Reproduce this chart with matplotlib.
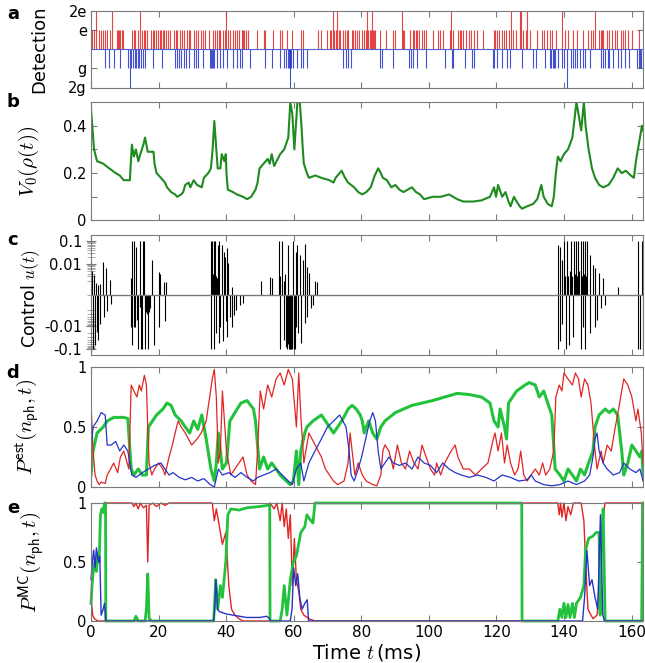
import numpy as np
import matplotlib
matplotlib.use("Agg")
import matplotlib.pyplot as plt
from matplotlib.ticker import FixedLocator, SymmetricalLogLocator, NullFormatter

plt.rcParams["mathtext.fontset"] = "cm"
plt.rcParams["font.family"] = "DejaVu Sans"
plt.rcParams["font.size"] = 10.5

# ---- panel a: detection events (ms) ----
red_e = [0.4, 1.0, 2.3, 2.9, 3.5, 4.2, 4.7, 5.5, 7.7, 8.0, 8.3, 8.5, 9.2, 9.6, 12.1, 12.6, 13.1,
         13.8, 15.1, 15.6, 16.1, 16.6, 17.8, 18.3, 18.7, 19.3, 19.7, 20.3, 20.7, 21.3, 21.7, 22.3,
         22.7, 23.3, 24.7, 25.1, 25.4, 26.2, 26.9, 27.6, 28.4, 28.9, 29.4, 30.4, 31.2, 31.8, 32.5,
         33.3, 33.8, 34.8, 36.1, 36.6, 37.3, 37.9, 38.3, 39.0, 39.7, 40.7, 41.2, 42.0, 42.7, 43.2,
         43.8, 44.6, 44.9, 45.3, 45.9, 46.6, 49.1, 51.1, 51.6, 53.8, 56.0, 56.5, 58.0, 59.5, 62.1,
         62.9, 67.3, 68.0, 69.8, 70.6, 71.0, 72.0, 72.6, 73.3, 73.8, 74.7, 75.2, 75.7, 76.2, 77.2,
         77.7, 78.2, 78.7, 79.2, 80.2, 80.9, 81.4, 82.1, 82.6, 82.9, 83.4, 83.8, 84.2, 85.6, 87.4,
         89.5, 90.1, 92.3, 92.7, 94.5, 95.2, 95.6, 96.1, 96.6, 97.2, 97.9, 98.6, 99.2, 101.2, 102.6,
         103.3, 104.1, 106.3, 107.3, 108.5, 109.1, 109.5, 110.0, 111.0, 112.0, 112.5, 113.4, 114.4,
         116.0, 119.3, 119.6, 120.1, 120.9, 121.6, 122.3, 122.9, 123.6, 124.8, 125.8, 128.0, 128.8,
         130.0, 131.9, 133.4, 134.1, 134.9, 135.9, 136.4, 137.7, 140.3, 141.3, 142.6, 143.8, 145.5,
         147.2, 147.9, 148.5, 150.5, 150.9, 151.3, 151.7, 152.6, 153.4, 154.1, 155.1, 155.8, 156.8,
         157.4, 158.1, 159.1, 160.0, 162.3]
red_2e = [1.5, 6.1, 14.4, 39.9, 71.6, 72.8, 81.6, 83.1, 92.0, 106.5, 124.3, 126.9, 127.3, 129.2,
          139.3, 149.2]
blue_g = [4.2, 5.2, 6.7, 8.5, 11.1, 11.8, 12.4, 12.9, 13.4, 13.8, 14.2, 14.8, 15.4, 16.1, 18.5,
          21.0, 25.0, 25.4, 26.0, 26.6, 27.4, 28.2, 28.9, 30.4, 31.2, 31.8, 33.1, 35.3, 35.6, 35.9,
          36.2, 36.5, 37.3, 38.3, 39.0, 40.2, 42.0, 43.2, 44.0, 44.7, 47.1, 51.6, 53.5, 55.8, 57.2,
          57.8, 58.2, 58.5, 58.8, 59.2, 59.8, 60.9, 62.1, 62.9, 63.9, 74.7, 75.5, 76.2, 76.9, 85.6,
          86.1, 89.3, 94.0, 94.7, 95.4, 96.6, 99.2, 104.8, 106.8, 107.3, 110.7, 112.7, 113.4, 118.9,
          119.4, 120.1, 121.6, 123.1, 123.9, 127.6, 130.8, 131.7, 134.4, 135.9, 136.3, 136.7, 137.1,
          137.4, 138.3, 139.3, 140.0, 142.0, 142.8, 143.3, 144.0, 144.8, 145.5, 146.2, 147.7, 150.9,
          151.5, 152.2, 152.9, 153.4, 154.4, 156.1, 156.8, 158.1, 159.4, 161.7, 162.1, 162.5, 162.9,
          163.3]
blue_2g = [11.4, 59.0, 141.0]
det_ticks = [-2, -1, 1, 2]
det_labels = ["2g", "g", "e", "2e"]

# ---- panel b: V0(rho(t)) ----
v0_pts = [(0, 0.47), (0.9, 0.30), (1.8, 0.25), (3.6, 0.24), (5.4, 0.22), (7.3, 0.20), (8.5, 0.19),
          (9.7, 0.17), (11.5, 0.17), (11.9, 0.27), (12.1, 0.32), (12.7, 0.27), (13.3, 0.30),
          (14.0, 0.25), (14.6, 0.28), (15.5, 0.32), (16.0, 0.35), (16.8, 0.29), (18.5, 0.29),
          (18.8, 0.24), (19.4, 0.20), (20.7, 0.18), (21.9, 0.16), (22.5, 0.14), (23.7, 0.12),
          (24.9, 0.11), (25.5, 0.10), (26.7, 0.11), (27.3, 0.12), (27.9, 0.15), (28.9, 0.16),
          (29.4, 0.14), (30.4, 0.17), (31.4, 0.15), (32.8, 0.14), (33.4, 0.18), (34.7, 0.20),
          (35.5, 0.22), (36.0, 0.30), (36.5, 0.42), (37.1, 0.30), (37.5, 0.22), (38.3, 0.22),
          (38.7, 0.28), (39.5, 0.25), (39.9, 0.28), (40.1, 0.20), (40.5, 0.13), (42.0, 0.12),
          (43.2, 0.11), (45.0, 0.10), (46.2, 0.09), (47.4, 0.10), (48.7, 0.13), (49.3, 0.16),
          (49.9, 0.22), (51.1, 0.24), (52.3, 0.26), (52.9, 0.24), (53.5, 0.28), (54.2, 0.23),
          (56.0, 0.28), (57.2, 0.30), (58.4, 0.35), (59.0, 0.50), (59.6, 0.45), (60.2, 0.30),
          (61.1, 0.50), (61.8, 0.50), (62.3, 0.40), (62.7, 0.30), (63.0, 0.24), (63.9, 0.20),
          (64.5, 0.18), (66.4, 0.19), (68.2, 0.18), (70.6, 0.17), (71.8, 0.16), (72.4, 0.18),
          (73.6, 0.20), (74.2, 0.21), (75.2, 0.18), (76.1, 0.16), (77.9, 0.14), (79.1, 0.12),
          (80.3, 0.11), (81.5, 0.12), (82.8, 0.14), (84.0, 0.19), (85.0, 0.22), (85.8, 0.20),
          (86.4, 0.18), (87.6, 0.17), (88.9, 0.14), (90.1, 0.15), (91.3, 0.13), (92.5, 0.12),
          (93.7, 0.13), (95.0, 0.14), (96.2, 0.12), (97.4, 0.11), (98.6, 0.09), (101.1, 0.10),
          (103.5, 0.10), (106.0, 0.11), (107.2, 0.10), (108.4, 0.09), (110.2, 0.08), (113.2, 0.08),
          (115.6, 0.085), (118.1, 0.10), (119.3, 0.14), (119.9, 0.10), (120.5, 0.15), (121.7, 0.10),
          (122.7, 0.12), (123.6, 0.08), (124.2, 0.06), (125.2, 0.10), (126.0, 0.08), (126.9, 0.06),
          (127.6, 0.05), (129.1, 0.06), (130.9, 0.07), (132.1, 0.09), (133.3, 0.15), (134.0, 0.10),
          (135.2, 0.07), (136.4, 0.06), (137.0, 0.10), (137.6, 0.20), (138.2, 0.27), (139.0, 0.25),
          (140.0, 0.28), (141.2, 0.30), (142.5, 0.35), (143.7, 0.50), (144.3, 0.45), (145.1, 0.38),
          (145.9, 0.50), (146.4, 0.40), (147.3, 0.30), (148.3, 0.22), (149.2, 0.18), (150.4, 0.15),
          (151.6, 0.14), (153.2, 0.15), (154.6, 0.18), (155.9, 0.22), (157.1, 0.20), (158.3, 0.21),
          (159.8, 0.19), (160.7, 0.18), (161.3, 0.25), (162.5, 0.35), (163.1, 0.40), (163.4, 0.38)]

# ---- panel c: control pulses (t, u) ----
u_pts = [(0.4, 0.005), (0.5, -0.1), (1.0, 0.0035), (1.1, -0.065), (1.6, 0.0015), (1.7, -0.018),
         (2.1, 0.0013), (2.2, -0.04), (2.6, 0.0014), (2.8, -0.008), (3.7, 0.013), (3.8, -0.004),
         (4.5, 0.0067), (4.6, -0.0022), (5.7, 0.0021), (5.9, -0.0012),
         (11.8, 0.0025), (11.9, -0.011), (12.1, 0.1), (12.2, -0.065), (12.6, 0.1), (12.7, -0.011),
         (13.1, -0.011), (13.4, 0.057), (13.5, -0.0055), (13.8, -0.1), (14.4, 0.1), (14.5, -0.0015),
         (14.8, -0.1), (15.1, -0.1), (15.4, 0.1), (15.8, 0.1), (15.9, -0.1), (16.1, -0.002),
         (16.3, -0.0025), (16.5, -0.002), (16.7, -0.003), (16.9, -0.002), (17.0, -0.1),
         (17.1, -0.0025), (17.3, -0.002), (17.5, -0.0018), (18.0, 0.015), (18.7, -0.065),
         (20.0, 0.0048), (20.1, -0.011), (20.5, 0.0037), (21.7, 0.0018), (21.8, -0.0063),
         (22.3, 0.0018),
         (35.5, 0.1), (35.6, -0.1), (35.7, 0.003), (35.9, 0.1), (36.1, 0.004), (36.3, 0.1),
         (36.4, -0.1), (36.5, 0.002), (36.7, 0.1), (36.9, 0.003), (37.1, -0.021), (37.3, 0.0025),
         (37.5, 0.067), (37.7, 0.002), (37.9, 0.1), (38.0, -0.055), (38.3, -0.011), (38.7, 0.067),
         (39.0, -0.047), (39.4, 0.035), (39.8, 0.021), (39.9, -0.0063), (40.2, 0.048),
         (40.3, -0.029), (40.7, 0.011), (41.0, -0.004), (41.7, 0.0011), (41.8, -0.011),
         (42.2, -0.0035), (43.0, -0.0021), (44.0, -0.00125), (45.0, -0.001),
         (50.3, 0.0019), (53.0, 0.0028), (53.5, 0.0026),
         (55.7, 0.1), (55.8, -0.1), (56.0, 0.003), (56.6, 0.1), (57.0, 0.002), (57.2, -0.04),
         (57.5, 0.004), (57.8, -0.08), (58.0, -0.1), (58.2, -0.06), (58.4, 0.067), (58.6, -0.1),
         (58.8, -0.1), (59.0, -0.1), (59.1, -0.09), (59.2, -0.1), (59.4, -0.1), (59.6, -0.08),
         (59.9, 0.1), (60.0, -0.1), (60.2, -0.07), (60.4, -0.1), (60.6, 0.035), (60.7, -0.011),
         (61.1, 0.067), (61.2, -0.021), (61.8, 0.025), (62.3, -0.055), (62.7, 0.015), (63.3, 0.075),
         (63.4, -0.0077), (63.9, 0.0079), (64.0, -0.004), (64.5, 0.0041), (65.1, -0.0017),
         (65.7, -0.00125), (66.3, 0.0019), (66.9, 0.0017),
         (138.2, 0.067), (138.3, -0.1), (138.8, 0.057), (138.9, -0.047), (139.4, 0.015),
         (139.5, -0.0082), (140.0, 0.1), (140.3, 0.003), (140.6, -0.1), (140.8, 0.004), (141.0, 0.1),
         (141.3, 0.003), (141.6, -0.065), (141.9, 0.005), (142.2, 0.1), (142.5, 0.003),
         (142.7, -0.029), (143.1, 0.1), (143.4, 0.004), (143.7, 0.1), (144.0, 0.003), (144.3, 0.1),
         (144.6, 0.005), (144.9, 0.1), (145.0, -0.1), (145.2, 0.003), (145.5, 0.1), (145.6, -0.011),
         (145.8, 0.004), (146.1, 0.1), (146.2, -0.1), (146.5, 0.003), (146.8, 0.1), (147.6, 0.025),
         (147.7, -0.021), (148.6, 0.0094), (149.2, 0.0072), (149.3, -0.011), (149.8, -0.0055),
         (150.4, 0.0041), (151.0, -0.0017), (151.6, 0.0025), (152.2, -0.00125), (155.9, 0.0011),
         (161.9, 0.1), (162.0, -0.1), (162.5, -0.1), (163.1, 0.1), (163.3, -0.1)]
u_ticks = [-0.1, -0.01, 0.01, 0.1]
u_labels = ["-0.1", "-0.01", "0.01", "0.1"]

# ---- panel d: estimated photon number probabilities ----
red_d = [(0, 0.7), (0.6, 0.3), (1.2, 0.1), (1.8, 0.05), (2.4, 0.02), (3.0, 0.04), (4.2, 0.03),
         (4.8, 0.1), (5.8, 0.15), (6.7, 0.2), (7.9, 0.12), (8.7, 0.25), (9.7, 0.3), (10.7, 0.2),
         (11.2, 0.15), (11.9, 0.85), (12.7, 0.8), (13.6, 0.75), (14.3, 0.85), (14.9, 0.8),
         (15.8, 0.93), (16.4, 0.85), (16.8, 0.5), (17.2, 0.2), (18.0, 0.1), (18.8, 0.15), (20.0, 0.2),
         (21.3, 0.15), (21.9, 0.1), (23.1, 0.25), (24.1, 0.35), (24.9, 0.45), (25.8, 0.55),
         (26.7, 0.5), (27.9, 0.45), (29.8, 0.35), (31.4, 0.4), (32.6, 0.45), (34.1, 0.55),
         (35.9, 0.9), (36.5, 0.98), (37.1, 0.75), (37.7, 0.2), (38.3, 0.3), (38.9, 0.8),
         (39.5, 0.55), (40.1, 0.3), (41.4, 0.1), (42.6, 0.15), (43.8, 0.2), (45.0, 0.25),
         (46.2, 0.1), (47.4, 0.05), (48.7, 0.02), (49.3, 0.3), (50.1, 0.8), (51.1, 0.65),
         (52.3, 0.85), (53.5, 0.75), (54.8, 0.9), (56.0, 0.95), (57.2, 0.85), (58.4, 0.98),
         (59.6, 0.9), (60.8, 0.5), (61.5, 0.95), (62.1, 0.6), (63.0, 0.2), (63.9, 0.35),
         (64.5, 0.45), (68.2, 0.25), (69.4, 0.15), (70.6, 0.1), (71.8, 0.05), (73.0, 0.02),
         (74.9, 0.05), (76.1, 0.2), (76.7, 0.45), (77.3, 0.3), (78.1, 0.1), (79.1, 0.2), (80.3, 0.1),
         (81.5, 0.05), (83.4, 0.02), (84.6, 0.01), (85.8, 0.1), (86.4, 0.3), (87.0, 0.35),
         (88.2, 0.3), (89.5, 0.15), (90.7, 0.35), (91.9, 0.2), (93.1, 0.15), (94.3, 0.3),
         (95.6, 0.2), (96.8, 0.15), (98.0, 0.35), (99.2, 0.25), (100.5, 0.15), (101.7, 0.1),
         (102.3, 0.2), (103.5, 0.1), (104.7, 0.2), (106.6, 0.3), (107.8, 0.35), (108.6, 0.25),
         (110.2, 0.15), (112.0, 0.15), (113.8, 0.1), (115.6, 0.15), (117.5, 0.2), (119.1, 0.4),
         (119.6, 0.45), (120.5, 0.3), (121.5, 0.45), (122.4, 0.2), (123.2, 0.35), (124.2, 0.2),
         (125.4, 0.1), (126.4, 0.15), (127.2, 0.3), (128.1, 0.1), (129.1, 0.05), (130.3, 0.1),
         (131.5, 0.15), (132.7, 0.1), (133.7, 0.2), (134.6, 0.1), (135.8, 0.15), (137.0, 0.3),
         (137.6, 0.75), (138.6, 0.85), (139.4, 0.8), (140.0, 0.95), (141.2, 0.9), (142.5, 0.85),
         (143.4, 0.95), (144.3, 0.9), (145.1, 0.75), (146.1, 0.9), (147.1, 0.85), (148.0, 0.7),
         (148.6, 0.5), (149.2, 0.3), (149.8, 0.15), (151.0, 0.3), (151.6, 0.2), (152.8, 0.35),
         (154.0, 0.3), (155.2, 0.5), (156.5, 0.7), (157.7, 0.9), (158.9, 0.85), (160.1, 0.75),
         (161.3, 0.55), (161.9, 0.65), (162.9, 0.45), (163.4, 0.2)]
green_d = [(0, 0.1), (0.6, 0.3), (1.8, 0.45), (3.6, 0.5), (4.8, 0.55), (6.7, 0.58), (9.7, 0.58),
           (10.9, 0.57), (11.9, 0.15), (12.7, 0.1), (14.0, 0.15), (15.2, 0.1), (16.4, 0.1),
           (17.0, 0.5), (18.2, 0.55), (19.4, 0.6), (21.3, 0.65), (22.5, 0.7), (23.7, 0.68),
           (24.9, 0.6), (26.7, 0.55), (27.9, 0.5), (29.2, 0.45), (30.4, 0.55), (31.6, 0.48),
           (32.8, 0.6), (34.1, 0.4), (35.5, 0.15), (36.5, 0.05), (37.1, 0.2), (37.7, 0.45),
           (38.3, 0.3), (38.9, 0.15), (40.1, 0.2), (41.1, 0.55), (42.6, 0.62), (44.4, 0.7),
           (46.2, 0.72), (48.1, 0.65), (48.7, 0.55), (49.9, 0.15), (51.1, 0.25), (52.3, 0.15),
           (53.5, 0.2), (54.8, 0.15), (56.0, 0.1), (57.8, 0.05), (59.0, 0.02), (59.9, 0.05),
           (60.8, 0.3), (61.5, 0.02), (62.1, 0.3), (63.3, 0.45), (63.9, 0.5), (65.7, 0.55),
           (68.2, 0.6), (69.4, 0.55), (70.6, 0.5), (71.8, 0.45), (73.0, 0.5), (74.2, 0.55),
           (75.2, 0.6), (76.1, 0.65), (77.3, 0.68), (78.5, 0.65), (79.7, 0.6), (80.3, 0.55),
           (80.9, 0.45), (81.5, 0.5), (82.2, 0.55), (83.4, 0.45), (84.6, 0.4), (85.8, 0.5),
           (87.0, 0.55), (90.1, 0.62), (95.0, 0.68), (101.1, 0.72), (104.7, 0.75), (108.4, 0.78),
           (112.0, 0.77), (115.6, 0.75), (118.1, 0.7), (119.3, 0.55), (120.5, 0.5), (121.1, 0.65),
           (122.4, 0.5), (123.0, 0.4), (123.6, 0.7), (126.0, 0.8), (128.5, 0.85), (129.7, 0.87),
           (131.5, 0.85), (132.7, 0.75), (134.0, 0.8), (135.2, 0.7), (136.4, 0.6), (137.4, 0.15),
           (138.8, 0.1), (140.0, 0.05), (141.2, 0.15), (142.5, 0.1), (143.7, 0.05), (144.9, 0.15),
           (146.1, 0.1), (147.3, 0.2), (148.6, 0.3), (149.2, 0.5), (150.4, 0.6), (152.2, 0.65),
           (153.4, 0.62), (154.6, 0.65), (155.9, 0.6), (157.1, 0.3), (157.7, 0.1), (158.9, 0.2),
           (160.1, 0.35), (161.3, 0.3), (162.5, 0.25), (163.1, 0.3), (163.4, 0.1)]
blue_d = [(0, 0.3), (0.6, 0.5), (1.8, 0.55), (3.0, 0.62), (4.2, 0.6), (4.8, 0.35), (6.0, 0.35),
          (7.3, 0.38), (8.5, 0.3), (9.7, 0.35), (10.9, 0.3), (12.1, 0.1), (13.3, 0.08),
          (15.2, 0.12), (17.0, 0.15), (18.8, 0.18), (20.7, 0.2), (21.9, 0.15), (23.1, 0.1),
          (24.3, 0.12), (26.1, 0.08), (27.9, 0.06), (29.8, 0.08), (31.6, 0.05), (33.4, 0.07),
          (35.3, 0.02), (36.5, 0.0), (37.7, 0.15), (38.9, 0.1), (40.8, 0.12), (42.6, 0.08),
          (44.4, 0.12), (46.2, 0.08), (48.1, 0.05), (49.3, 0.08), (51.1, 0.1), (52.9, 0.12),
          (54.8, 0.15), (56.6, 0.1), (58.4, 0.05), (59.6, 0.02), (60.8, 0.15), (62.1, 0.2),
          (63.0, 0.05), (64.5, 0.2), (66.3, 0.3), (68.2, 0.4), (70.0, 0.5), (71.8, 0.55),
          (73.6, 0.6), (75.5, 0.5), (76.4, 0.3), (77.0, 0.1), (77.9, 0.05), (79.1, 0.15),
          (80.1, 0.25), (81.3, 0.4), (82.5, 0.55), (83.4, 0.62), (84.2, 0.55), (85.0, 0.3),
          (85.8, 0.15), (87.0, 0.2), (88.2, 0.25), (89.5, 0.2), (91.3, 0.18), (93.1, 0.2),
          (95.0, 0.15), (96.8, 0.25), (98.6, 0.2), (100.5, 0.18), (102.3, 0.12), (104.1, 0.2),
          (106.0, 0.15), (107.8, 0.12), (109.6, 0.1), (112.0, 0.08), (114.4, 0.1), (116.9, 0.08),
          (119.3, 0.05), (121.7, 0.1), (124.2, 0.08), (126.6, 0.05), (129.1, 0.06), (130.3, 0.1),
          (131.5, 0.05), (134.0, 0.02), (136.4, 0.01), (138.8, 0.02), (141.2, 0.05), (143.7, 0.02),
          (146.1, 0.05), (147.6, 0.1), (148.6, 0.25), (149.2, 0.4), (149.8, 0.45), (150.4, 0.3),
          (151.6, 0.2), (152.8, 0.15), (154.6, 0.1), (156.5, 0.12), (157.7, 0.2), (159.5, 0.15),
          (161.3, 0.12), (162.5, 0.15), (163.4, 0.05)]

# ---- panel e: Monte-Carlo photon number probabilities ----
red_e_mc = [(0, 0.2), (0.5, 0.05), (1.0, 0.02), (2.0, 0.0), (4.3, 0.0), (4.4, 1.0), (12.1, 1.0),
            (12.7, 0.97), (13.3, 1.0), (14.0, 0.95), (14.6, 1.0), (15.5, 0.96), (16.4, 0.98),
            (16.8, 0.5), (17.2, 0.98), (18.2, 1.0), (19.4, 0.97), (20.7, 1.0), (21.9, 0.98),
            (23.1, 1.0), (35.9, 1.0), (36.5, 0.85), (37.1, 0.95), (38.0, 0.8), (38.9, 0.65),
            (39.9, 0.75), (40.8, 0.3), (41.6, 0.1), (42.6, 0.05), (43.8, 0.02), (45.0, 0.0),
            (52.9, 0.0), (53.0, 1.0), (54.2, 0.95), (55.0, 1.0), (56.0, 0.85), (56.6, 1.0),
            (57.2, 0.8), (57.8, 0.95), (58.4, 0.7), (59.0, 0.9), (59.6, 0.3), (60.2, 0.7),
            (60.8, 0.35), (61.5, 0.25), (62.1, 0.1), (63.0, 0.05), (64.5, 0.02), (66.3, 0.0),
            (127.5, 0.0), (127.6, 1.0), (138.2, 1.0), (138.6, 0.9), (139.0, 1.0), (139.4, 0.88),
            (140.0, 1.0), (140.6, 0.85), (141.2, 0.97), (142.0, 0.9), (142.8, 1.0), (145.1, 1.0),
            (145.9, 0.85), (146.4, 0.5), (147.1, 0.1), (148.0, 0.05), (148.6, 0.02), (149.8, 0.05),
            (150.4, 0.3), (151.0, 0.6), (151.6, 0.9), (152.2, 1.0), (163.1, 1.0), (163.4, 0.0)]
green_e_mc = [(0, 0.15), (0.3, 0.3), (0.8, 0.45), (1.2, 0.5), (1.6, 0.42), (2.0, 0.55), (2.4, 0.5),
              (2.8, 0.9), (3.2, 0.95), (3.6, 0.92), (4.0, 1.0), (4.3, 1.0), (4.4, 0.0), (12.7, 0.0),
              (13.3, 0.04), (14.0, 0.0), (16.0, 0.0), (16.4, 0.1), (16.8, 0.4), (17.2, 0.02),
              (18.0, 0.0), (36.3, 0.0), (36.6, 0.15), (36.9, 0.35), (37.5, 0.1), (38.3, 0.3),
              (38.9, 0.2), (39.9, 0.5), (40.5, 0.9), (41.4, 0.95), (43.8, 0.94), (46.2, 0.96),
              (49.9, 0.97), (52.3, 0.98), (52.9, 0.98), (53.0, 0.0), (56.0, 0.0), (56.6, 0.1),
              (57.2, 0.3), (58.0, 0.05), (59.0, 0.35), (59.9, 0.5), (60.8, 0.55), (62.1, 0.75),
              (63.3, 0.8), (63.9, 0.9), (65.1, 0.85), (65.7, 0.83), (66.3, 1.0), (127.5, 1.0),
              (127.6, 0.0), (138.2, 0.0), (138.8, 0.1), (139.4, 0.03), (140.0, 0.15), (140.6, 0.03),
              (141.2, 0.14), (141.8, 0.03), (142.5, 0.15), (143.1, 0.03), (143.7, 0.15),
              (144.9, 0.2), (145.9, 0.3), (146.4, 0.6), (147.3, 0.7), (148.6, 0.72), (149.5, 0.75),
              (150.4, 0.75), (150.7, 0.05), (151.0, 0.6), (151.6, 0.95), (152.2, 0.0), (163.0, 0.0),
              (163.3, 1.0)]
blue_e_mc = [(0, 0.35), (0.4, 0.5), (0.8, 0.6), (1.2, 0.45), (1.6, 0.62), (2.2, 0.5), (2.6, 0.55),
             (3.0, 0.05), (3.6, 0.1), (4.0, 0.15), (4.4, 0.0), (36.3, 0.0), (36.6, 0.1), (37.0, 0.35),
             (37.5, 0.1), (38.0, 0.08), (40.0, 0.06), (42.0, 0.05), (44.0, 0.04), (46.0, 0.03),
             (50.0, 0.03), (52.0, 0.04), (52.9, 0.02), (53.0, 0.0), (59.0, 0.0), (59.5, 0.1),
             (60.0, 0.45), (60.6, 0.3), (61.2, 0.4), (61.8, 0.2), (62.5, 0.1), (63.3, 0.15),
             (64.0, 0.18), (64.4, 0.0), (145.5, 0.0), (146.1, 0.2), (146.8, 0.6), (147.6, 0.3),
             (148.3, 0.35), (149.2, 0.2), (150.0, 0.1), (150.8, 0.9), (151.5, 0.05), (152.0, 0.0),
             (163.4, 0.0)]

x_ticks = [0, 20, 40, 60, 80, 100, 120, 140, 160]
t_max = 163.4

RED = "#e02424"
BLUE = "#2434c8"
GREEN = "#22c23c"
DKGREEN = "#1f8a1f"
GRAY = "#7a7a7a"

fig = plt.figure(figsize=(6.45, 6.63), dpi=100)


def panel(top, bottom):
    ax = fig.add_axes([91 / 645, 1 - bottom / 663, 552 / 645, (bottom - top) / 663])
    for s in ax.spines.values():
        s.set_color(GRAY)
    ax.tick_params(direction="in", color=GRAY, top=True, right=True, length=4,
                   labelsize=10.5, pad=3)
    ax.set_xlim(0, t_max)
    ax.set_xticks(x_ticks)
    ax.tick_params(axis="x", labelbottom=False)
    return ax


def xy(pts):
    t, v = zip(*pts)
    return np.array(t), np.array(v)


# a
ax_a = panel(11, 87.5)
ax_a.vlines(red_e, 0, 1, color=RED, lw=0.8, alpha=0.85)
ax_a.vlines(red_2e, 0, 2, color=RED, lw=0.8, alpha=0.85)
ax_a.vlines(blue_g, -1, 0, color=BLUE, lw=0.8, alpha=0.85)
ax_a.vlines(blue_2g, -2, 0, color=BLUE, lw=0.8, alpha=0.85)
ax_a.axhline(0, color="#5060d0", lw=0.8)
ax_a.set_ylim(-2, 2)
ax_a.set_yticks(det_ticks)
ax_a.set_yticklabels(det_labels)
ax_a.set_ylabel("Detection", fontsize=13)
ax_a.yaxis.set_label_coords(-0.078, 0.5)

# b
ax_b = panel(102, 220.5)
t, v = xy(v0_pts)
ax_b.plot(t, v, color=DKGREEN, lw=1.5)
ax_b.set_ylim(0, 0.5)
ax_b.set_yticks([0, 0.1, 0.2, 0.3, 0.4])
ax_b.set_yticklabels(["0", "", "0.2", "", "0.4"])
ax_b.set_ylabel(r"$V_0(\rho(t))$", fontsize=15)
ax_b.yaxis.set_label_coords(-0.09, 0.5)

# c
ax_c = panel(235, 354.5)
t, v = xy(u_pts)
ax_c.set_yscale("symlog", linthresh=1e-3, linscale=0.29)
ax_c.vlines(t, 0, v, color="k", lw=0.8)
ax_c.axhline(0, color=GRAY, lw=1)
ax_c.set_ylim(-0.17, 0.18)
ax_c.yaxis.set_major_locator(FixedLocator(u_ticks))
ax_c.set_yticklabels(u_labels)
ax_c.yaxis.set_minor_locator(SymmetricalLogLocator(linthresh=1e-3, base=10,
                                                   subs=np.arange(2, 10)))
ax_c.yaxis.set_minor_formatter(NullFormatter())
ax_c.tick_params(axis="y", which="both", right=False)
ax_c.tick_params(axis="y", which="minor", direction="inout", length=6, color="#9a9a9a")
ax_c.tick_params(axis="y", which="major", direction="inout", length=7)
ax_c.set_ylabel(r"Control $u(t)$", fontsize=12.5)
ax_c.yaxis.set_label_coords(-0.088, 0.47)

# d
ax_d = panel(367, 487)
for pts, col, lw in [(green_d, GREEN, 2.2), (red_d, RED, 0.9), (blue_d, BLUE, 0.9)]:
    t, v = xy(pts)
    ax_d.plot(t, v, color=col, lw=lw)
ax_d.set_ylim(0, 1)
ax_d.set_yticks([0, 0.5, 1])
ax_d.set_yticklabels(["0", "0.5", "1"])
ax_d.set_ylabel(r"$P^{\mathsf{est}}(n_{\mathsf{ph}},t)$", fontsize=15)
ax_d.yaxis.set_label_coords(-0.09, 0.5)

# e
ax_e = panel(503, 621)
for pts, col, lw in [(red_e_mc, RED, 1.0), (green_e_mc, GREEN, 2.0), (blue_e_mc, BLUE, 1.0)]:
    t, v = xy(pts)
    ax_e.plot(t, v, color=col, lw=lw, clip_on=False)
ax_e.set_ylim(0, 1)
ax_e.set_yticks([0, 0.5, 1])
ax_e.set_yticklabels(["0", "0.5", "1"])
ax_e.tick_params(axis="x", labelbottom=True, labelsize=11)
ax_e.set_ylabel(r"$P^{\mathsf{MC}}(n_{\mathsf{ph}},t)$", fontsize=15)
ax_e.yaxis.set_label_coords(-0.08, 0.5)
ax_e.set_xlabel(r"Time $t\,$(ms)", fontsize=14, labelpad=1)

for letter, ypx in [("a", 14), ("b", 102), ("c", 240), ("d", 373), ("e", 508)]:
    fig.text(13 / 645, 1 - ypx / 663, letter, fontsize=13, fontweight="bold",
             ha="center", va="center")

fig.savefig("out.png", dpi=100)
